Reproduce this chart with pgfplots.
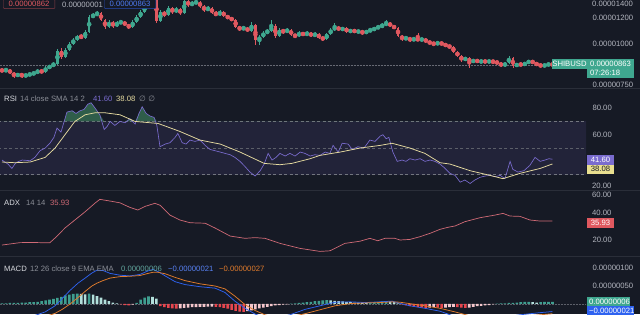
\documentclass[border=0pt]{standalone}
\usepackage{pgfplots}
\pgfplotsset{compat=1.18}
\usepackage{pgfplotstable}
\usepackage{fontspec}
\setmainfont{Liberation Sans}
\newfontfamily\symfont{DejaVu Sans}
\definecolor{bg}{HTML}{161A25}
\definecolor{sep}{HTML}{2A2E39}
\definecolor{lbl}{HTML}{B2B5BE}
\definecolor{dimt}{HTML}{8A8D96}
\definecolor{upc}{HTML}{3FA78F}
\definecolor{dnc}{HTML}{E0585F}
\definecolor{rsic}{HTML}{7A6CCF}
\definecolor{smac}{HTML}{E6DBA0}
\definecolor{adxc}{HTML}{D06A76}
\definecolor{macdc}{HTML}{2E62F0}
\definecolor{sigc}{HTML}{E07B2C}
\definecolor{hA}{HTML}{3F9E8F}
\definecolor{hB}{HTML}{B2DFDB}
\definecolor{hC}{HTML}{E8464E}
\definecolor{hD}{HTML}{F5C6CB}
\definecolor{obg}{HTML}{3B7A5B}
\newcommand\fs{\fontsize{7.7}{8}\selectfont}

\pgfplotstableread{
i o h l c
0 833 839 822 828
1 828 845 822 833
2 833 839 810 816
3 816 822 788 799
4 799 816 793 810
5 810 816 788 799
6 799 810 793 805
7 805 816 799 810
8 810 822 805 816
9 816 839 810 828
10 828 833 816 822
11 822 857 816 845
12 845 863 839 857
13 857 881 851 869
14 869 966 863 952
15 952 972 900 913
16 913 972 906 959
17 959 1014 952 1000
18 1000 1043 993 1028
19 1028 1065 1021 1058
20 1058 1073 1036 1043
21 1043 1103 1036 1088
22 1088 1225 1080 1208
23 1208 1242 1200 1225
24 1225 1260 1217 1242
25 1242 1251 1175 1183
26 1183 1191 1111 1127
27 1127 1183 1119 1167
28 1167 1175 1119 1134
29 1134 1175 1127 1159
30 1159 1183 1150 1167
31 1167 1175 1134 1142
32 1142 1150 1111 1127
33 1127 1183 1119 1167
34 1167 1225 1159 1208
35 1208 1269 1200 1251
36 1251 1323 1242 1305
37 1305 1381 1296 1352
38 1352 1411 1342 1391
39 1391 1401 1159 1175
40 1175 1269 1167 1251
41 1251 1260 1208 1225
42 1225 1305 1217 1287
43 1287 1296 1234 1251
44 1251 1296 1242 1278
45 1278 1287 1225 1242
46 1242 1371 1234 1352
47 1352 1362 1296 1314
48 1314 1352 1305 1333
49 1333 1362 1323 1342
50 1342 1352 1287 1305
51 1305 1314 1251 1269
52 1269 1305 1260 1287
53 1287 1296 1234 1242
54 1242 1260 1217 1225
55 1225 1269 1217 1251
56 1251 1260 1208 1217
57 1217 1225 1191 1200
58 1200 1208 1175 1183
59 1183 1191 1119 1127
60 1127 1134 1095 1111
61 1111 1134 1103 1119
62 1119 1127 1088 1095
63 1095 1167 1088 1142
64 1142 1150 993 1028
65 1028 1065 993 1050
66 1050 1095 1043 1080
67 1080 1111 1073 1095
68 1095 1183 1088 1134
69 1134 1150 1043 1058
70 1058 1119 1050 1103
71 1103 1111 1073 1088
72 1088 1119 1080 1103
73 1103 1111 1058 1065
74 1065 1073 1043 1058
75 1058 1095 1050 1080
76 1080 1088 1058 1065
77 1065 1095 1058 1080
78 1080 1088 1050 1058
79 1058 1088 1050 1073
80 1073 1080 1036 1043
81 1043 1058 1021 1036
82 1036 1080 1028 1073
83 1073 1119 1065 1103
84 1103 1159 1095 1127
85 1127 1134 1095 1103
86 1103 1127 1095 1119
87 1119 1127 1080 1088
88 1088 1111 1080 1103
89 1103 1111 1080 1088
90 1088 1103 1080 1095
91 1095 1103 1065 1080
92 1080 1103 1073 1095
93 1095 1119 1088 1103
94 1103 1127 1095 1119
95 1119 1142 1111 1127
96 1127 1159 1119 1142
97 1142 1183 1134 1159
98 1159 1167 1127 1134
99 1134 1142 1111 1119
100 1119 1127 1050 1058
101 1058 1065 1021 1036
102 1036 1058 1028 1043
103 1043 1050 1014 1028
104 1028 1050 1021 1036
105 1036 1080 1021 1028
106 1028 1043 1021 1036
107 1036 1043 1007 1014
108 1014 1021 1000 1007
109 1007 1014 986 1000
110 1000 1021 993 1007
111 1007 1014 993 1000
112 1000 1007 979 986
113 986 993 972 979
114 979 986 939 945
115 945 952 913 919
116 919 926 881 894
117 894 913 888 906
118 906 913 845 881
119 881 900 875 894
120 894 900 875 881
121 881 894 875 888
122 888 894 875 881
123 881 894 875 888
124 888 894 869 881
125 881 888 869 875
126 875 881 851 857
127 857 881 851 875
128 875 919 869 906
129 906 913 845 857
130 857 875 851 869
131 869 875 857 863
132 863 881 857 875
133 875 894 869 888
134 888 894 869 875
135 875 881 857 863
136 863 869 851 857
137 857 869 851 863
138 863 875 857 869
139 869 875 857 863
}\candles

\pgfplotstableread{
x v
0 41
1.5 38
2.5 34.7
3.5 39
5.1 41
7.1 40.5
8.3 43
9.6 48
10.9 50
12.1 53.6
13.1 58
13.9 65
14.9 62
15.7 70
16.4 77
17.7 78
18.7 76
19.7 78
20.7 79
21.7 83
22.5 84
23.5 80
24.7 75
25.8 64
26.5 66
27.3 70
28.5 67
29.8 70
31.1 69
32.3 72
33.6 68
34.6 76
35.4 81
36.4 76
37.4 74
38.4 73
39.1 67
39.9 51
41.2 53
42.4 54
43.7 58
44.4 61
45.5 54
46.5 53
47.5 56
48.7 55
50.0 56
51.3 52
52.5 49
53.8 48
55.1 47
56.3 46
57.6 45
58.8 43
60.1 40
61.4 36
62.6 32
63.9 29
65.2 33
66.2 38
67.2 46
68.2 41
69.2 43
70.2 46
71.5 44
72.7 46
74.0 44
75.3 47
76.5 46
77.8 44
79.0 45
80.3 44.5
81.6 47
82.8 46
83.6 52
84.9 47
85.9 53.6
87.4 53
88.4 49
89.9 51
91.4 50
92.9 56
94.2 55
95.5 59
96.2 60
97.0 57
97.7 58
98.7 47
99.8 40
101.0 41
102.0 40
103.0 42
104.3 41
105.6 42
106.8 40
108.1 41
109.3 40
110.6 38
111.9 34.7
113.1 31
114.4 29.5
115.7 24.4
116.9 26
118.2 23.4
119.4 26
120.7 28
122.0 29
123.2 29.5
124.5 28.5
125.8 29.5
127.0 27
128.3 40
129.0 34
130.3 32
131.8 33
133.3 37
134.6 43
135.9 40
137.1 41
138.1 42
139 41.6
}\rsi

\pgfplotstableread{
x v
0 39.5
3.3 39
7.1 39.5
10.9 43
13.4 50
15.9 60
18.4 70
21.0 75
23.5 76.5
26.0 76.5
29.8 75
33.6 70
37.4 69
39.4 68.5
44.9 62.5
50.0 56
55.1 53
60.1 47
66.2 38.5
70.2 37.5
73.2 38.5
77.8 42
80.3 44.5
85.4 47
90.4 50
95.5 52
98.5 53.6
103.0 50
106.8 46
110.6 39
113.1 38
118.2 33
123.2 29.5
126.5 27
130.8 31
135.9 34.7
139 38.08
}\sma

\pgfplotstableread{
x v
0 15.8
4.5 17.8
7.1 18
9.6 17.8
12.1 17.8
13.4 21.7
15.9 30
18.4 36.7
21.0 43.6
23.5 50.8
24.7 53.9
27.3 52.5
29.8 51
32.3 47.2
34.3 45
36.1 48
38.6 50.6
39.9 49
42.4 40.8
44.9 36.7
47.5 34.4
51.3 34
53.8 30
57.6 23.3
61.4 21.4
63.9 22
66.4 21.4
70.2 17.2
75.3 13
80.3 10.5
82.8 11
86.6 17.2
90.4 19
92.9 21.4
94.9 19.4
96.7 21.4
99.2 21.4
100.5 20
103.0 20.5
105.6 22.8
108.1 25.6
110.6 28.9
112.6 30.6
114.4 31.7
116.9 35.3
120.7 38.6
124.5 40.8
126.5 42.2
128.3 40
130.8 39.7
133.3 36.7
135.9 35.8
139 35.93
}\adx

\pgfplotstableread{
x m s
0 -45 -55
4.5 -40 -48
8.3 -32 -42
10.9 -22 -35
13.4 -5 -26
15.2 15 -15
17.2 38 0
19.2 58 18
21.0 72 35
22.7 86 50
24.0 94 58
25.5 93 65
27.3 85 72
29.8 80 76
32.3 78 77
34.8 82 79
36.9 92 85
38.1 96 88
39.4 90 88
41.2 78 84
43.7 62 74
46.2 54 65
50.0 48 56
53.8 44 50
56.3 32 42
58.8 8 22
61.4 -12 -2
63.9 -28 -18
66.4 -38 -30
68.9 -40 -37
72.7 -30 -36
76.5 -15 -27
80.3 -5 -16
84.1 5 -5
87.9 6 1
91.7 4 3
95.5 6 4
98.5 8 6
100.5 2 5
103.0 -5 1
106.8 -12 -5
110.6 -20 -12
114.4 -35 -22
118.2 -45 -33
122.0 -45 -40
125.8 -38 -40
130.8 -30 -35
135.9 -24 -30
139 -21 -27
}\macd

\pgfplotstableread{
i h k
0 2 1
1 2 1
2 3 1
3 3 1
4 3 1
5 4 1
6 4 1
7 5 1
8 5 1
9 6 1
10 8 1
11 10 1
12 12 1
13 14 1
14 17 1
15 20 1
16 24 1
17 26 1
18 28 1
19 29 1
20 28 2
21 27 2
22 29 1
23 26 2
24 22 2
25 18 2
26 12 2
27 8 2
28 4 2
29 2 2
30 -1 3
31 -3 3
32 -4 3
33 -2 4
34 3 1
35 12 1
36 18 1
37 21 1
38 20 2
39 15 2
40 -6 3
41 -9 3
42 -11 3
43 -12 3
44 -13 3
45 -12 4
46 -11 4
47 -10 4
48 -9 4
49 -9 4
50 -8 4
51 -8 4
52 -7 4
53 -7 4
54 -8 3
55 -9 3
56 -11 3
57 -13 3
58 -16 3
59 -19 3
60 -21 3
61 -22 3
62 -20 4
63 -18 4
64 -15 4
65 -12 4
66 -10 4
67 -8 4
68 -6 4
69 -4 4
70 -3 4
71 -2 4
72 -1 4
73 1 1
74 2 1
75 3 1
76 4 1
77 5 1
78 6 1
79 8 1
80 9 1
81 10 1
82 11 1
83 10 2
84 9 2
85 8 2
86 7 2
87 6 2
88 5 2
89 4 2
90 4 2
91 3 2
92 3 2
93 4 1
94 5 1
95 6 1
96 7 1
97 8 1
98 7 2
99 5 2
100 2 2
101 -1 3
102 -4 3
103 -6 3
104 -8 3
105 -9 3
106 -10 3
107 -11 3
108 -10 4
109 -9 4
110 -10 3
111 -11 3
112 -10 4
113 -9 4
114 -8 4
115 -9 3
116 -10 3
117 -11 3
118 -10 4
119 -8 4
120 -6 4
121 -5 4
122 -4 4
123 -3 4
124 -1 4
125 1 1
126 2 1
127 2 1
128 3 1
129 3 1
130 4 1
131 5 1
132 6 1
133 6 1
134 5 2
135 4 2
136 5 1
137 6 1
138 6 1
139 6 1
}\hist

\pgfplotsset{panel/.style={scale only axis, width=586pt, xmin=-0.505, xmax=147.47,
  axis line style={draw=none}, xtick=\empty, major tick length=0pt, ytick style={draw=none},
  yticklabel pos=right, yticklabel style={font=\fs, text=lbl, anchor=west, xshift=3pt}}}

\begin{document}
\begin{tikzpicture}
\useasboundingbox (0pt,0pt) rectangle (640pt,-314pt);
\fill[bg] (0pt,0pt) rectangle (640pt,-314pt);

% ---------- price ----------
\begin{axis}[panel, at={(0pt,-88pt)}, anchor=south west, height=88pt,
  ymin=2.86570, ymax=3.13418,
  ytick={2.87506,3,3.07918}, yticklabels={0.00000750,0.00001000,0.00001200}]
\addplot[densely dotted, color=dimt!70!bg, line width=0.5pt] coordinates {(-1,2.93601) (148,2.93601)};
\addplot[color=upc, only marks, mark=none, restrict expr to domain={\thisrow{c}-\thisrow{o}}{0:100000},
  error bars/.cd, y dir=both, y explicit, error mark=none, error bar style={line width=0.6pt, color=upc}]
  table[x=i, y expr={(log10(\thisrow{h})+log10(\thisrow{l}))/2}, y error expr={(log10(\thisrow{h})-log10(\thisrow{l}))/2}] {\candles};
\addplot[color=dnc, only marks, mark=none, restrict expr to domain={\thisrow{c}-\thisrow{o}}{-100000:-0.5},
  error bars/.cd, y dir=both, y explicit, error mark=none, error bar style={line width=0.6pt, color=dnc}]
  table[x=i, y expr={(log10(\thisrow{h})+log10(\thisrow{l}))/2}, y error expr={(log10(\thisrow{h})-log10(\thisrow{l}))/2}] {\candles};
\addplot[color=upc, only marks, mark=none, restrict expr to domain={\thisrow{c}-\thisrow{o}}{0:100000},
  error bars/.cd, y dir=both, y explicit, error mark=none, error bar style={line width=2.7pt, color=upc}]
  table[x=i, y expr={(log10(\thisrow{o})+log10(\thisrow{c}))/2}, y error expr={abs(log10(\thisrow{c})-log10(\thisrow{o}))/2}] {\candles};
\addplot[color=dnc, only marks, mark=none, restrict expr to domain={\thisrow{c}-\thisrow{o}}{-100000:-0.5},
  error bars/.cd, y dir=both, y explicit, error mark=none, error bar style={line width=2.7pt, color=dnc}]
  table[x=i, y expr={(log10(\thisrow{o})+log10(\thisrow{c}))/2}, y error expr={abs(log10(\thisrow{c})-log10(\thisrow{o}))/2}] {\candles};
\end{axis}

% ---------- RSI ----------
\begin{axis}[panel, at={(0pt,-190pt)}, anchor=south west, height=102pt,
  ymin=18.5, ymax=95.1, ytick={60,80}, yticklabels={60.00,80.00}]
\addplot[fill=rsic, fill opacity=0.12, draw=none] coordinates {(-1,30) (148,30) (148,70) (-1,70)} -- cycle;
\addplot[dash pattern=on 3pt off 2.5pt, color=dimt!80!bg, line width=0.5pt] coordinates {(-1,70) (148,70)};
\addplot[dash pattern=on 3pt off 2.5pt, color=dimt!60!bg, line width=0.5pt] coordinates {(-1,50) (148,50)};
\addplot[dash pattern=on 3pt off 2.5pt, color=dimt!80!bg, line width=0.5pt] coordinates {(-1,30) (148,30)};
\addplot[fill=obg, fill opacity=0.7, draw=none] table[x=x, y expr={max(\thisrow{v},70)}] {\rsi} -- cycle;
\addplot[color=rsic, line width=0.65pt] table[x=x, y=v] {\rsi};
\addplot[color=smac, line width=0.75pt] table[x=x, y=v] {\sma};
\end{axis}

% ---------- ADX ----------
\begin{axis}[panel, at={(0pt,-255pt)}, anchor=south west, height=65pt,
  ymin=7.5, ymax=61.7, ytick={20}, yticklabels={20.00}]
\addplot[color=adxc, line width=0.7pt] table[x=x, y=v] {\adx};
\end{axis}

% ---------- MACD ----------
\begin{axis}[panel, at={(0pt,-314pt)}, anchor=south west, height=57.5pt,
  ymin=-27.8, ymax=131.9, ytick={50,100}, yticklabels={0.00000050,0.00000100}]
\addplot[densely dotted, color=dimt!60!bg, line width=0.5pt] coordinates {(-1,0) (148,0)};
\addplot[ybar, bar width=2.6pt, bar shift=0pt, draw=none, fill=hA, restrict expr to domain={\thisrow{k}}{0.5:1.5}] table[x=i, y=h] {\hist};
\addplot[ybar, bar width=2.6pt, bar shift=0pt, draw=none, fill=hB, restrict expr to domain={\thisrow{k}}{1.5:2.5}] table[x=i, y=h] {\hist};
\addplot[ybar, bar width=2.6pt, bar shift=0pt, draw=none, fill=hC, restrict expr to domain={\thisrow{k}}{2.5:3.5}] table[x=i, y=h] {\hist};
\addplot[ybar, bar width=2.6pt, bar shift=0pt, draw=none, fill=hD, restrict expr to domain={\thisrow{k}}{3.5:4.5}] table[x=i, y=h] {\hist};
\addplot[color=macdc, line width=0.75pt] table[x=x, y=m] {\macd};
\addplot[color=sigc, line width=0.75pt] table[x=x, y=s] {\macd};
\end{axis}

% ---------- separators ----------
\draw[sep, line width=0.8pt] (0pt,-88.5pt) -- (640pt,-88.5pt);
\draw[sep, line width=0.8pt] (0pt,-190pt) -- (640pt,-190pt);
\draw[sep, line width=0.8pt] (0pt,-256.5pt) -- (640pt,-256.5pt);

% edge labels clipped by panes
\begin{scope}
\clip (586pt,0pt) rectangle (640pt,-88pt);
\node[font=\fs, text=lbl, anchor=west, inner sep=0pt] at (592pt,-3.9pt) {0.00001400};
\end{scope}
\begin{scope}
\clip (586pt,-88.5pt) rectangle (640pt,-189.5pt);
\node[font=\fs, text=lbl, anchor=west, inner sep=0pt] at (592pt,-186pt) {20.00};
\end{scope}
\begin{scope}
\clip (586pt,-190.5pt) rectangle (640pt,-256pt);
\node[font=\fs, text=lbl, anchor=west, inner sep=0pt] at (592pt,-194.5pt) {60.00};
\end{scope}
\begin{scope}
\clip (586pt,-190.5pt) rectangle (640pt,-217pt);
\node[font=\fs, text=lbl, anchor=west, inner sep=0pt] at (592pt,-213pt) {40.00};
\end{scope}

% ---------- price overlays ----------
\node[draw=dnc!55!bg, fill=bg, text=dnc, font=\fs, anchor=north west, inner xsep=5.5pt, inner ysep=2pt, rounded corners=1pt] at (3pt,1pt) {0.00000862};
\node[text=lbl, font=\fs, anchor=west, inner sep=0pt] at (62pt,-5pt) {0.00000001};
\node[draw=macdc!70!bg, fill=bg, text=macdc!85!white, font=\fs, anchor=north west, inner xsep=5.5pt, inner ysep=2pt, rounded corners=1pt] at (104pt,1pt) {0.00000863};
\fill[upc] (552pt,-59pt) rectangle (587pt,-68.5pt);
\node[text=white, font=\fs, inner sep=0pt] at (569.5pt,-63.8pt) {SHIBUSD};
\fill[upc] (587pt,-59pt) rectangle (634pt,-78pt);
\node[text=white, font=\fs, anchor=west, inner sep=0pt] at (590pt,-63.5pt) {0.00000863};
\node[text=white, font=\fs, anchor=west, inner sep=0pt] at (590pt,-72.5pt) {07:26:18};

% ---------- RSI overlays ----------
\node[text=lbl!50!white, font=\fs, anchor=west, inner sep=0pt] at (4pt,-99pt) {RSI};
\node[text=dimt, font=\fs, anchor=west, inner sep=0pt] at (20pt,-99pt) {14 close SMA 14 2};
\node[text=rsic, font=\fs, anchor=west, inner sep=0pt] at (93pt,-99pt) {41.60};
\node[text=smac, font=\fs, anchor=west, inner sep=0pt] at (116pt,-99pt) {38.08};
\node[text=dimt, font=\fs, anchor=west, inner sep=0pt] at (139pt,-99pt) {\symfont ∅ ∅};
\fill[rsic] (587pt,-155pt) rectangle (614pt,-164.5pt);
\node[text=white, font=\fs, inner sep=0pt] at (600.5pt,-159.8pt) {41.60};
\fill[smac!90!yellow] (587pt,-164.5pt) rectangle (614pt,-174pt);
\node[text=bg, font=\fs, inner sep=0pt] at (600.5pt,-169.3pt) {38.08};

% ---------- ADX overlays ----------
\node[text=lbl!50!white, font=\fs, anchor=west, inner sep=0pt] at (4pt,-202.5pt) {ADX};
\node[text=dimt, font=\fs, anchor=west, inner sep=0pt] at (26pt,-202.5pt) {14 14};
\node[text=adxc, font=\fs, anchor=west, inner sep=0pt] at (50pt,-202.5pt) {35.93};
\fill[dnc] (587pt,-217.5pt) rectangle (614pt,-227.5pt);
\node[text=white, font=\fs, inner sep=0pt] at (600.5pt,-222.5pt) {35.93};

% ---------- MACD overlays ----------
\node[text=lbl!50!white, font=\fs, anchor=west, inner sep=0pt] at (4pt,-269pt) {MACD};
\node[text=dimt, font=\fs, anchor=west, inner sep=0pt] at (30pt,-269pt) {12 26 close 9 EMA EMA};
\node[text=hA!70!lbl, font=\fs, anchor=west, inner sep=0pt] at (121pt,-269pt) {0.00000006};
\node[text=macdc!80!white, font=\fs, anchor=west, inner sep=0pt] at (168pt,-269pt) {−0.00000021};
\node[text=sigc, font=\fs, anchor=west, inner sep=0pt] at (219pt,-269pt) {−0.00000027};
\fill[upc] (587pt,-297pt) rectangle (630pt,-306pt);
\node[text=white, font=\fs, anchor=west, inner sep=0pt] at (589pt,-301.5pt) {0.00000006};
\fill[macdc] (587pt,-306pt) rectangle (634pt,-315pt);
\node[text=white, font=\fs, anchor=west, inner sep=0pt] at (589pt,-310.5pt) {−0.00000021};
\end{tikzpicture}
\end{document}
